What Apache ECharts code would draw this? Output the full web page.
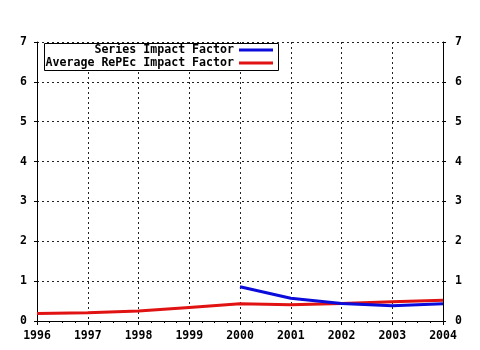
<!DOCTYPE html>
<html><head><meta charset="utf-8">
<script src="https://cdn.jsdelivr.net/npm/echarts@6/dist/echarts.min.js"></script>
<style>html,body{margin:0;padding:0;background:#fff}#c{width:480px;height:350px}</style>
</head><body><div id="c"></div>
<script>
var years = [1996, 1997, 1998, 1999, 2000, 2001, 2002, 2003, 2004];
var seriesIF = [null, null, null, null, 0.86, 0.57, 0.44, 0.38, 0.43];
var averageIF = [0.19, 0.21, 0.25, 0.34, 0.43, 0.41, 0.44, 0.48, 0.52];
var seriesNames = ['Series Impact Factor', 'Average RePEc Impact Factor'];
var colors = ['#0b0bdc', '#e01212'];

function pairs(vals) {
  var out = [];
  for (var i = 0; i < years.length; i++) if (vals[i] !== null) out.push([years[i], vals[i]]);
  return out;
}
var font = '"DejaVu Sans Mono", monospace';
var lbl = {color: '#000', fontFamily: font, fontWeight: 'bold', fontSize: 11.5};
var grid = {color: '#222', type: [2, 3], width: 1};
var chart = echarts.init(document.getElementById('c'), null, {renderer: 'canvas'});
chart.setOption({
  animation: false,
  backgroundColor: '#fff',
  grid: {left: 37, right: 37, top: 42, bottom: 29},
  xAxis: [{
    type: 'value', min: 1996, max: 2004, interval: 1, position: 'bottom',
    axisLine: {lineStyle: {color: '#000', width: 1}},
    axisTick: {show: true, length: 4, lineStyle: {color: '#000'}},
    minorTick: {show: true, splitNumber: 4, length: 2, lineStyle: {color: '#000'}},
    axisLabel: Object.assign({margin: 9, formatter: function (v) { return String(v); }}, lbl),
    splitLine: {show: true, lineStyle: grid}
  }, {
    type: 'value', min: 1996, max: 2004, interval: 1, position: 'top',
    axisLine: {show: true, lineStyle: {color: '#000'}},
    axisTick: {show: true, inside: true, length: 3, lineStyle: {color: '#000'}},
    minorTick: {show: true, splitNumber: 4, length: 2, lineStyle: {color: '#000'}},
    axisLabel: {show: false}, splitLine: {show: false}
  }],
  yAxis: [{
    type: 'value', min: 0, max: 7, interval: 1, position: 'left',
    axisLine: {show: true, lineStyle: {color: '#000'}},
    axisTick: {show: true, length: 3, lineStyle: {color: '#000'}},
    axisLabel: Object.assign({margin: 10}, lbl),
    splitLine: {show: true, lineStyle: grid}
  }, {
    type: 'value', min: 0, max: 7, interval: 1, position: 'right',
    axisLine: {show: true, lineStyle: {color: '#000'}},
    axisTick: {show: true, length: 3, lineStyle: {color: '#000'}},
    axisLabel: Object.assign({margin: 12}, lbl),
    splitLine: {show: false}
  }],
  legend: [{
    data: [seriesNames[0]], right: 207, top: 44, align: 'right', z: 10,
    itemWidth: 34, itemHeight: 3, icon: 'rect', padding: 0,
    textStyle: {color: '#000', fontFamily: font, fontWeight: 'bold', fontSize: 11.6}
  }, {
    data: [seriesNames[1]], right: 207, top: 57, align: 'right', z: 10,
    itemWidth: 34, itemHeight: 3, icon: 'rect', padding: 0,
    textStyle: {color: '#000', fontFamily: font, fontWeight: 'bold', fontSize: 11.6}
  }],
  graphic: [{
    type: 'rect', shape: {x: 44.5, y: 43.5, width: 234, height: 27},
    style: {fill: '#fff', stroke: '#000', lineWidth: 1}, z: 8
  }],
  series: [{
    name: seriesNames[0], type: 'line', data: pairs(seriesIF), showSymbol: false,
    lineStyle: {width: 3, color: colors[0]}, itemStyle: {color: colors[0]}, z: 3
  }, {
    name: seriesNames[1], type: 'line', data: pairs(averageIF), showSymbol: false,
    lineStyle: {width: 3, color: colors[1]}, itemStyle: {color: colors[1]}, z: 2
  }]
});
</script></body></html>
